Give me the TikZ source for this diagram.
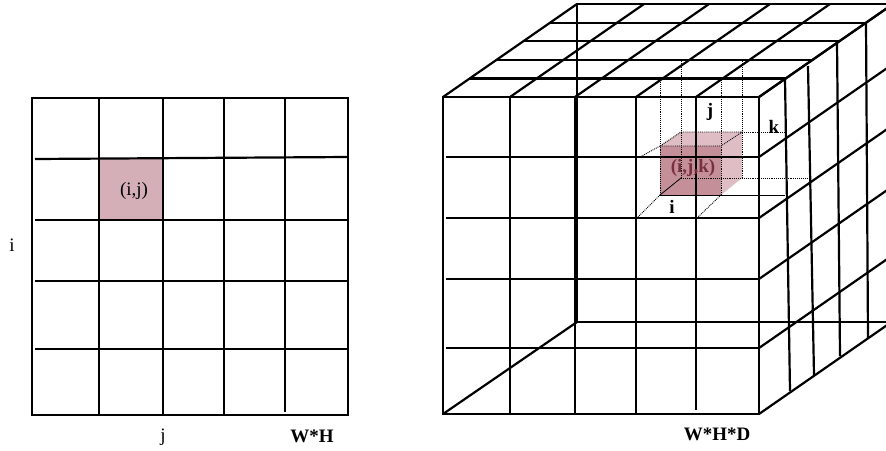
\documentclass[tikz,border=0pt]{standalone}
\usepackage{fontspec}
\setmainfont{Liberation Serif}
\usetikzlibrary{positioning,calc}
\definecolor{cellpink}{RGB}{213,175,183}
\definecolor{cubefront}{RGB}{197,143,153}
\definecolor{cubeside}{RGB}{222,189,196}
\definecolor{labelred}{RGB}{120,48,64}

\begin{document}
\begin{tikzpicture}[x=1pt,y=-1pt,
  gridline/.style={line width=2.2pt},
  hint/.style={densely dotted,line width=0.9pt},
  thinline/.style={line width=0.8pt},
  lbl/.style={font=\fontsize{19}{22}\selectfont},
  boldlbl/.style={font=\fontsize{19}{22}\selectfont\bfseries}]

\clip (0,0) rectangle (886,450);
\fill[white] (0,0) rectangle (886,450);

\fill[cellpink] (99,159) rectangle (163,220);
\draw[gridline] (32,98) rectangle (348,415);
\foreach \x in {99,163,224} \draw[gridline] (\x,98) -- (\x,415);
\draw[gridline] (285,98) -- (285,412);
\draw[gridline] (35,159) -- (348,157);
\foreach \y in {220,281,349} \draw[gridline] (35,\y) -- (348,\y);
\node[lbl] (cell) at (134,191) {(i,j)};
\node[lbl] (rowlbl) at (12,245) {i};
\node[lbl] (collbl) at (163,437) {j};
\node[boldlbl] (size2d) at (312,436) {W*H};

\fill[cubefront] (660,146) rectangle (721,195);
\fill[cubeside] (660,146) -- (681,132) -- (742,132) -- (721,146) -- cycle;
\fill[cubeside] (721,146) -- (742,132) -- (742,178) -- (721,195) -- cycle;

\draw[gridline] (443,97) rectangle (759,414);
\foreach \x in {510,575,636} \draw[gridline] (\x,97) -- (\x,414);
\draw[gridline] (696,97) -- (696,410);
\foreach \y in {157,218,279,348} \draw[gridline] (446,\y) -- (759,\y);
\foreach \x in {443,510,575,636,696,759} \draw[gridline] (\x,97) -- ++(134,-93);
\foreach \d in {1,...,5} \draw[gridline] ({443+26.8*\d},{97-18.6*\d}) -- ++(316,0);
\foreach \y in {97,157,218,279,348,414} \draw[gridline] (759,\y) -- ++(134,-93);
\foreach \xt/\yt/\xb/\yb in {785/79/790/391,808/66/814/375,837/42/840/356,866/23/868/338}
  \draw[gridline] (\xt,\yt) -- (\xb,\yb);
\draw[gridline] (577,3) -- (577,322) -- (893,322);
\draw[gridline] (443,414) -- (577,322);

\draw[hint] (660,195) -- (660,78);
\draw[hint] (681,178) -- (681,61);
\draw[hint] (721,195) -- (721,78);
\draw[hint] (742,178) -- (742,61);
\draw[hint] (660,146) -- (721,146) -- (742,132) -- (681,132) -- cycle;
\draw[hint] (681,178) -- (742,178);
\draw[hint] (742,132) -- (785,132);
\draw[hint] (742,178) -- (807,178);
\draw[hint] (660,195) -- (637,218);
\draw[hint] (721,195) -- (697,218);
\draw[hint] (660,146) -- (640,157);
\draw[thinline] (660,195) -- (785,195);
\draw[thinline] (660,195) -- (681,178);

\node[boldlbl,text=labelred] (voxel) at (693,168) {(i,j,k)};
\node[boldlbl] (ilbl) at (672,207) {i};
\node[boldlbl] (jlbl) at (710,112) {j};
\node[boldlbl] (klbl) at (774,127) {k};
\node[boldlbl] (size3d) at (717,434) {W*H*D};

\end{tikzpicture}
\end{document}
